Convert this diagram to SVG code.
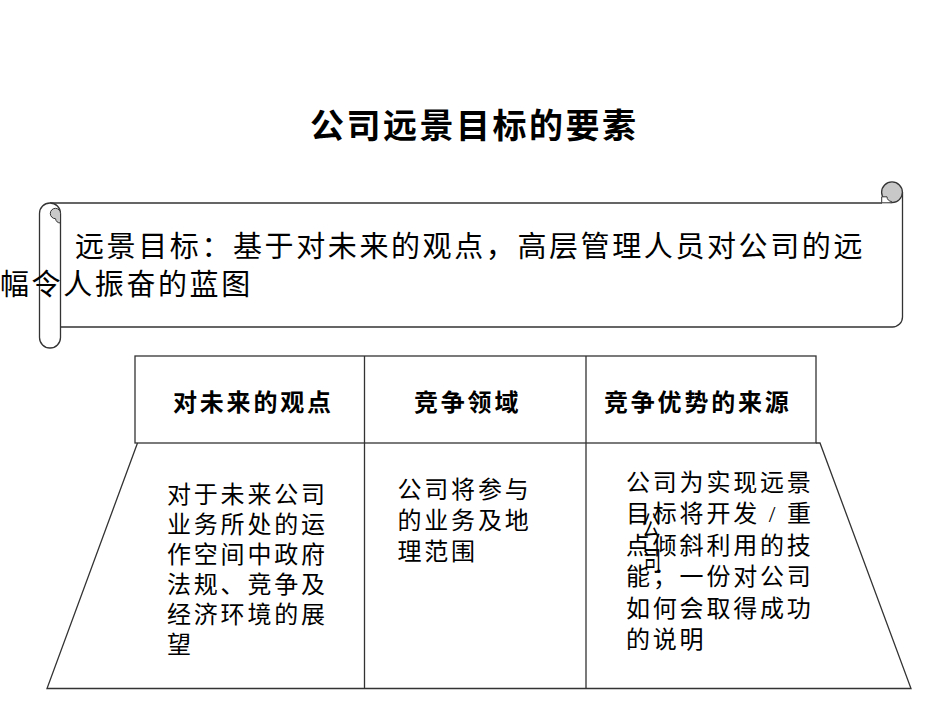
<svg xmlns="http://www.w3.org/2000/svg" width="950" height="713" viewBox="0 0 950 713">
<style>
.ln{fill:none;stroke:#333;stroke-width:1.3}
.title{font-family:"Liberation Sans","Noto Sans CJK SC",sans-serif;font-weight:bold;font-size:34px;letter-spacing:2.5px;fill:#000}
.scr{font-family:"Liberation Serif","Noto Sans CJK SC",serif;font-size:29px;letter-spacing:2.6px;fill:#000}
.hd{font-family:"Liberation Sans","Noto Sans CJK SC",sans-serif;font-weight:bold;font-size:24px;letter-spacing:2.8px;fill:#000}
.bd{font-family:"Liberation Serif","Noto Sans CJK SC",serif;font-size:24px;letter-spacing:2.8px;fill:#000}
.ov{font-family:"Liberation Serif","Noto Sans CJK SC",serif;font-size:28px;fill:#000;text-anchor:middle}
</style>
<rect width="950" height="713" fill="#fff"/>
<g id="title">
<text class="title" x="310" y="138">公司远景目标的要素</text>
</g>
<g id="scroll">
<path d="M50,203 H902.5 V317 A10,10 0 0 1 892.5,327 H50 Z" fill="#fff"/>
<path class="ln" d="M50,203 H882 M902.5,192 V317 A10,10 0 0 1 892.5,327 H60.5"/>
<circle cx="892" cy="192.3" r="10.4" fill="#c8c8c8" stroke="#333" stroke-width="1.3"/>
<path d="M881.7,202.8 V196.8 H887 A4.7,4.7 0 0 0 891.7,201.5 V202.8 Z" fill="#fff" stroke="#333" stroke-width="1"/>
<path class="ln" d="M60.5,213.5 A10.5,10.5 0 0 0 39.5,213.5 V337.5 A10.5,10.5 0 0 0 60.5,337.5 Z" style="fill:#fff"/>
<path d="M55.5,208.3 A5.2,5.2 0 0 1 60.5,213.5 V223 A5.2,5.2 0 0 1 55.5,218.7 A5.2,5.2 0 0 1 55.5,208.3 Z" fill="#c8c8c8" stroke="#333" stroke-width="1"/>
<text class="scr" x="75" y="257">远景目标：基于对未来的观点，高层管理人员对公司的远</text>
<text class="scr" x="0" y="295">幅令人振奋的蓝图</text>
</g>
<g id="table-lines">
<rect class="ln" x="135" y="356" width="681" height="87"/>
<path class="ln" d="M137.5,443 L47,688.5 H911 L820,443 H816 M364.5,356 V688.5 M586,356 V688.5"/>
</g>
<g id="col1">
<text class="hd" x="173" y="411">对未来的观点</text>
<text class="bd" x="167" y="503">对于未来公司</text>
<text class="bd" x="167" y="533">业务所处的运</text>
<text class="bd" x="167" y="563">作空间中政府</text>
<text class="bd" x="167" y="593">法规、竞争及</text>
<text class="bd" x="167" y="623">经济环境的展</text>
<text class="bd" x="167" y="653">望</text>
</g>
<g id="col2">
<text class="hd" x="414" y="411">竞争领域</text>
<text class="bd" x="397.5" y="498">公司将参与</text>
<text class="bd" x="397.5" y="529">的业务及地</text>
<text class="bd" x="397.5" y="560">理范围</text>
</g>
<g id="col3">
<text class="hd" x="604" y="411">竞争优势的来源</text>
<text class="bd" x="626" y="491">公司为实现远景</text>
<text class="bd" x="626" y="522.4">目标将开发 / 重</text>
<text class="bd" x="626" y="553.8">点倾斜利用的技</text>
<text class="bd" x="626" y="585.2">能；一份对公司</text>
<text class="bd" x="626" y="616.6">如何会取得成功</text>
<text class="bd" x="626" y="648">的说明</text>
<text class="ov" transform="translate(651,536) scale(0.65,1)">公</text>
<text class="ov" transform="translate(652,571) scale(0.65,1)">司</text>
</g>
</svg>
